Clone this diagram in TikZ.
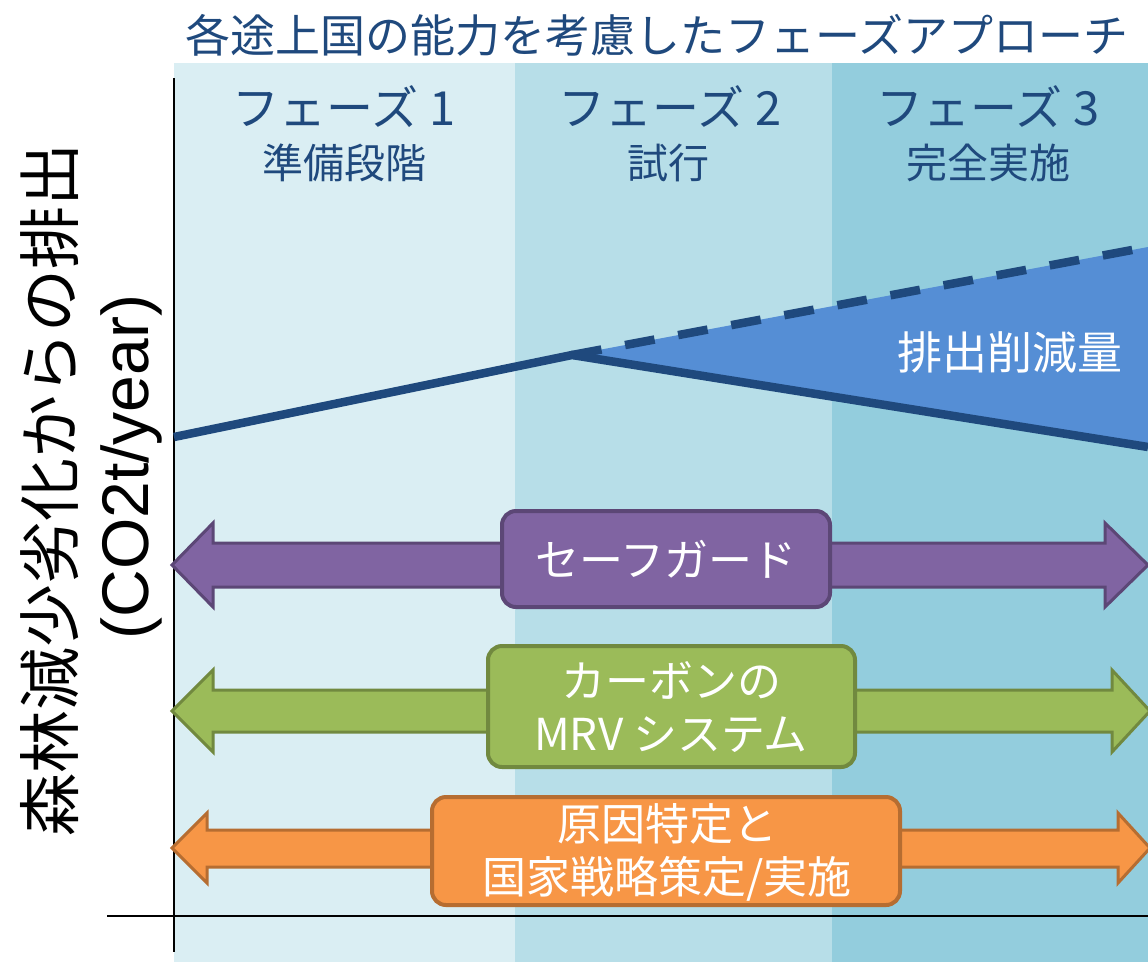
\documentclass[tikz,border=0pt]{standalone}
\usepackage{fontspec}
\newfontfamily\jp{Noto Sans CJK JP}
\newfontfamily\arialf{Liberation Sans}
\definecolor{bandA}{HTML}{DAEEF3}
\definecolor{bandB}{HTML}{B7DEE8}
\definecolor{bandC}{HTML}{93CDDD}
\definecolor{navy}{HTML}{1F497D}
\definecolor{cutfill}{HTML}{558ED5}
\definecolor{purF}{HTML}{8064A2}\definecolor{purD}{HTML}{5C4776}
\definecolor{grnF}{HTML}{9BBB59}\definecolor{grnD}{HTML}{71893F}
\definecolor{orgF}{HTML}{F79646}\definecolor{orgD}{HTML}{B66D31}
\tikzset{
  title/.style={text=navy,font=\jp\fontsize{45}{50}\selectfont,inner sep=0pt},
  phase/.style={text=navy,font=\jp\fontsize{47}{50}\selectfont,inner sep=0pt},
  phasesub/.style={text=navy,font=\jp\fontsize{41}{46}\selectfont,inner sep=0pt},
  boxtext/.style={text=white,font=\jp\fontsize{44}{53}\selectfont,align=center,inner sep=0pt},
  rbox/.style={rounded corners=14pt,line width=4pt},
  dbl/.style={line width=3pt,line join=miter},
}
\begin{document}
\begin{tikzpicture}[x=1pt,y=-1pt]
\useasboundingbox (0,0) rectangle (1148,962);
% bands
\fill[bandA] (174,63) rectangle (515,962);
\fill[bandB] (515,63) rectangle (832,962);
\fill[bandC] (832,63) rectangle (1148,962);
% title and phases
\node[title] (ttl) at (657,35) {各途上国の能力を考慮したフェーズアプローチ};
\node[phase] (p1) at (344,107) {フェーズ 1};
\node[phase] (p2) at (670,107) {フェーズ 2};
\node[phase] (p3) at (988,107) {フェーズ 3};
\node[phasesub] (s1) at (344,163) {準備段階};
\node[phasesub] (s2) at (668,163) {試行};
\node[phasesub] (s3) at (988,163) {完全実施};
% axes
\coordinate (axtop) at (174,78);
\coordinate (axbot) at (174,952);
\coordinate (hxl) at (107,916);
\coordinate (hxr) at (1148,916);
\draw[line width=2pt] (axtop) -- (axbot);
\draw[line width=2pt] (hxl) -- (hxr);
% emission lines
\coordinate (e0) at (174,437);
\coordinate (pk) at (572,355);
\coordinate (eu) at (1148,247);
\coordinate (ed) at (1148,447);
\fill[cutfill] (pk) -- (eu) -- (ed) -- cycle;
\draw[navy,line width=8.5pt] (e0) -- (pk) -- (ed);
\draw[navy,line width=8.5pt,dash pattern=on 30pt off 24pt] (pk) -- (eu);
\node[text=white,font=\jp\fontsize{45}{50}\selectfont,inner sep=0pt] (cut) at (1010,352) {排出削減量};
% y label
\node[rotate=90,font=\jp\fontsize{63}{66}\selectfont,inner sep=0pt] (yl1) at (50,490) {森林減少劣化からの排出};
\node[rotate=90,font=\arialf\fontsize{66}{66}\selectfont,inner sep=0pt] (yl2) at (131,467) {(CO2t/year)};
% purple arrow
\draw[dbl,fill=purF,draw=purD] (172,565) -- (213,523) -- (213,543) -- (1105,543) -- (1105,523) -- (1148,565) -- (1105,607) -- (1105,587) -- (213,587) -- (213,607) -- cycle;
\draw[rbox,fill=purF,draw=purD] (502,511) rectangle (830,607);
\node[boxtext] (safe) at (666,559) {セーフガード};
% green arrow
\draw[dbl,fill=grnF,draw=grnD] (172,711) -- (213,670) -- (213,690) -- (1112,690) -- (1112,670) -- (1150,711) -- (1112,752) -- (1112,732) -- (213,732) -- (213,752) -- cycle;
\draw[rbox,fill=grnF,draw=grnD] (488,646) rectangle (855,767);
\node[boxtext] (mrv) at (671,707) {カーボンの\\MRV システム};
% orange arrow
\draw[dbl,fill=orgF,draw=orgD] (172,848) -- (207,813) -- (207,830) -- (1118,830) -- (1118,813) -- (1150,848) -- (1118,883) -- (1118,867) -- (207,867) -- (207,883) -- cycle;
\draw[rbox,fill=orgF,draw=orgD] (432,797) rectangle (900,905);
\node[boxtext] (ctry) at (667,852) {原因特定と\\国家戦略策定/実施};
\end{tikzpicture}
\end{document}
